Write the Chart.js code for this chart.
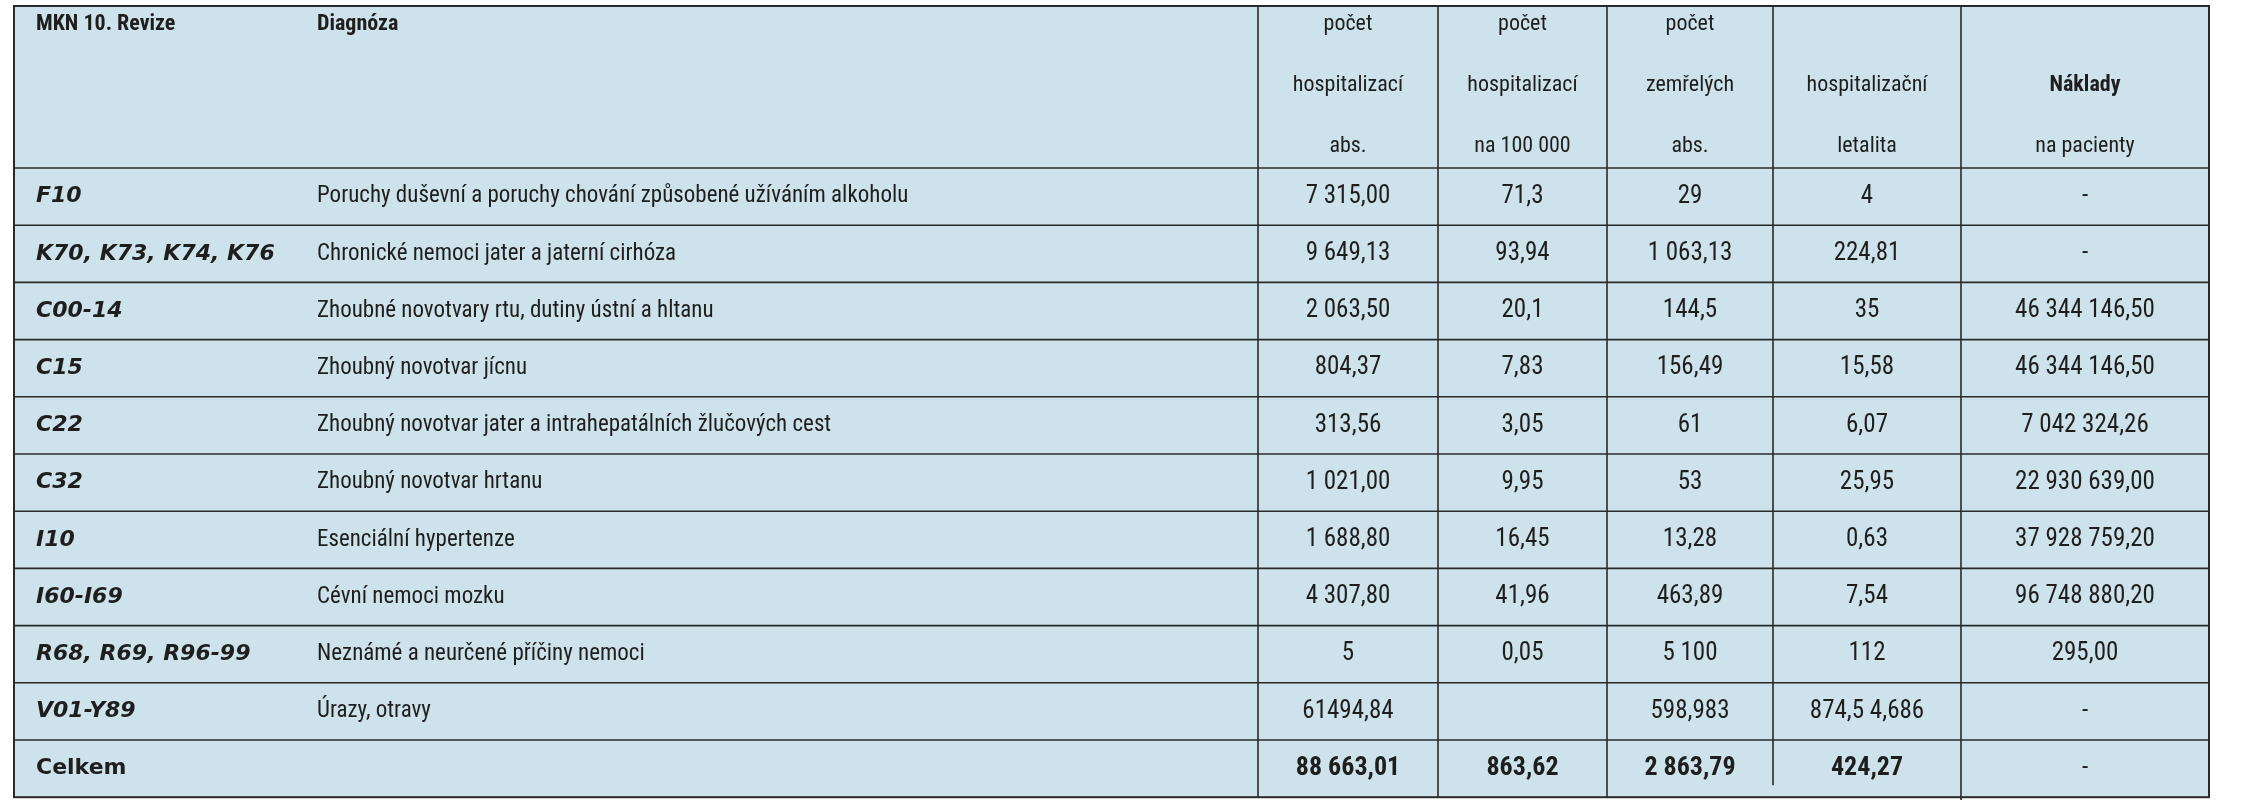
<!DOCTYPE html>
<html><head><meta charset="utf-8">
<script src="https://cdn.jsdelivr.net/npm/chart.js@4/dist/chart.umd.min.js"></script>
<style>html,body{margin:0;padding:0;background:#fff;}canvas{display:block;}</style>
</head><body>
<canvas id="c" width="2241" height="800"></canvas>
<script>
const codes = ["F10","K70, K73, K74, K76","C00-14","C15","C22","C32","I10","I60-I69","R68, R69, R96-99","V01-Y89","Celkem"];
const diagnoses = ["Poruchy duševní a poruchy chování způsobené užíváním alkoholu","Chronické nemoci jater a jaterní cirhóza","Zhoubné novotvary rtu, dutiny ústní a hltanu","Zhoubný novotvar jícnu","Zhoubný novotvar jater a intrahepatálních žlučových cest","Zhoubný novotvar hrtanu","Esenciální hypertenze","Cévní nemoci mozku","Neznámé a neurčené příčiny nemoci","Úrazy, otravy",""];
const hospAbs = ["7 315,00","9 649,13","2 063,50","804,37","313,56","1 021,00","1 688,80","4 307,80","5","61494,84","88 663,01"];
const hospPer100k = ["71,3","93,94","20,1","7,83","3,05","9,95","16,45","41,96","0,05","","863,62"];
const deathsAbs = ["29","1 063,13","144,5","156,49","61","53","13,28","463,89","5 100","598,983","2 863,79"];
const lethality = ["4","224,81","35","15,58","6,07","25,95","0,63","7,54","112","874,5 4,686","424,27"];
const costs = ["-","-","46 344 146,50","46 344 146,50","7 042 324,26","22 930 639,00","37 928 759,20","96 748 880,20","295,00","-","-"];
const headerLeft = ["MKN 10. Revize","Diagnóza"];
const headerCols = [["počet","hospitalizací","abs."],["počet","hospitalizací","na 100 000"],["počet","zemřelých","abs."],["","hospitalizační","letalita"],["","Náklady","na pacienty"]];

const colEdges = [14, 1258, 1438, 1607, 1773, 1961, 2209];
const tableTop = 6, headerBottom = 168, rowH = 57.2;
const numCols = [hospAbs, hospPer100k, deathsAbs, lethality, costs];

const pts = [];
codes.forEach((c,r)=>{ numCols.forEach((col,k)=>{ pts.push({x:(colEdges[k+1]+colEdges[k+2])/2, y:headerBottom+rowH*(r+0.5), v:col[r]}); }); });

const FONT = "'Roboto Condensed','Liberation Sans Narrow','Roboto',sans-serif";
const tablePlugin = {
  id:'table',
  beforeDatasetsDraw(chart){
    const ctx = chart.ctx, xs = chart.scales.x, ys = chart.scales.y;
    const X = v=>xs.getPixelForValue(v), Y = v=>ys.getPixelForValue(v);
    const bottom = headerBottom + rowH*codes.length;
    ctx.save();
    ctx.fillStyle = '#cde2eb';
    ctx.fillRect(X(colEdges[0]), Y(tableTop), X(colEdges[6])-X(colEdges[0]), Y(bottom)-Y(tableTop));
    ctx.strokeStyle = '#2a2a2a'; ctx.lineWidth = 2;
    ctx.strokeRect(X(colEdges[0]), Y(tableTop), X(colEdges[6])-X(colEdges[0]), Y(bottom)-Y(tableTop));
    ctx.lineWidth = 1.6;
    for (let r=0;r<codes.length;r++){ const y=Y(headerBottom+rowH*r); ctx.beginPath(); ctx.moveTo(X(colEdges[0]),y); ctx.lineTo(X(colEdges[6]),y); ctx.stroke(); }
    for (let k=1;k<6;k++){ ctx.beginPath(); ctx.moveTo(X(colEdges[k]),Y(tableTop)); let yb = bottom; if(k===4) yb = bottom-12; if(k===5) yb = bottom+10; ctx.lineTo(X(colEdges[k]),Y(yb)); ctx.stroke(); }
    ctx.fillStyle = '#1e1e1e'; ctx.textBaseline='middle';
    ctx.font = "bold 22px "+FONT; ctx.textAlign='left';
    ctx.fillText(headerLeft[0], X(36), Y(24));
    ctx.fillText(headerLeft[1], X(317), Y(24));
    ctx.textAlign='center';
    const hy=[24,85,146];
    headerCols.forEach((lines,k)=>{ const cx=X((colEdges[k+1]+colEdges[k+2])/2); lines.forEach((t,i)=>{ ctx.font=(k===4&&i===1?"bold ":"")+"22px "+FONT; ctx.fillText(t,cx,Y(hy[i])); }); });
    codes.forEach((c,r)=>{
      const cy = Y(headerBottom+rowH*(r+0.5));
      ctx.textAlign='left';
      ctx.font = (r===codes.length-1) ? "bold 22px 'DejaVu Sans',sans-serif" : "italic bold 22px 'DejaVu Sans',sans-serif";
      ctx.fillText(c, X(36), cy);
      ctx.font="23px "+FONT; ctx.fillText(diagnoses[r], X(317), cy);
    });
    ctx.restore();
  },
  afterDatasetsDraw(chart){
    const ctx = chart.ctx, meta = chart.getDatasetMeta(0);
    ctx.save(); ctx.fillStyle='#1e1e1e'; ctx.textAlign='center'; ctx.textBaseline='middle';
    meta.data.forEach((el,i)=>{ const p=pts[i]; const last = Math.floor(i/5)===codes.length-1 && i%5!==4;
      ctx.font=(last?"bold 26px ":"25px ")+FONT; ctx.fillText(p.v, el.x, el.y); });
    ctx.restore();
  }
};

new Chart(document.getElementById('c'), {
  type:'scatter',
  data:{datasets:[{data:pts, pointRadius:0, pointHoverRadius:0}]},
  options:{responsive:false, animation:false, events:[],
    layout:{padding:0},
    plugins:{legend:{display:false}, tooltip:{enabled:false}},
    scales:{x:{type:'linear',min:0,max:2241,display:false},
            y:{type:'linear',min:0,max:800,reverse:true,display:false}}},
  plugins:[tablePlugin]
});
</script>
</body></html>
